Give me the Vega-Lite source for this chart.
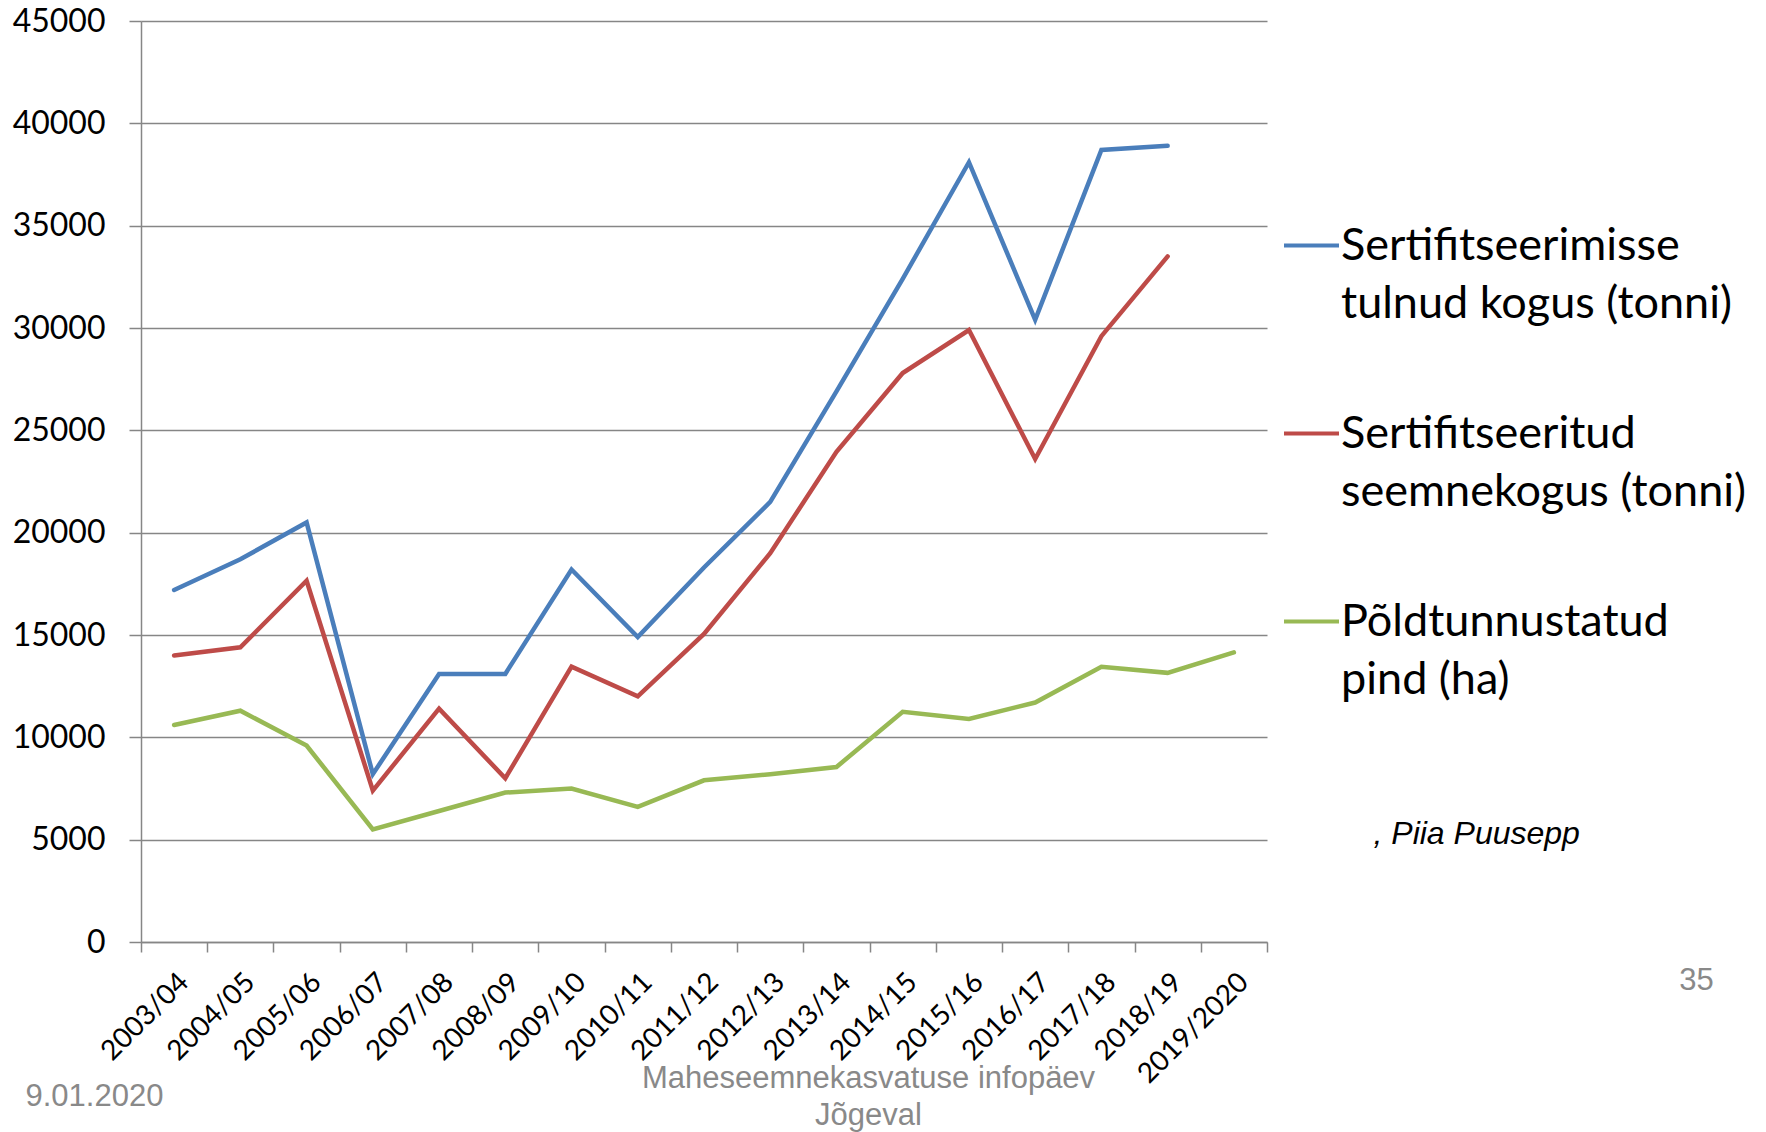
{
  "$schema": "https://vega.github.io/schema/vega-lite/v6.json",
  "width": 1126,
  "height": 921,
  "autosize": {"type": "none"},
  "padding": {"left": 141, "top": 21, "right": 499, "bottom": 190},
  "background": "white",
  "data": {
    "values": [
      {"season": "2003/04", "series": "Sertifitseerimisse tulnud kogus (tonni)", "value": 17200},
      {"season": "2004/05", "series": "Sertifitseerimisse tulnud kogus (tonni)", "value": 18700},
      {"season": "2005/06", "series": "Sertifitseerimisse tulnud kogus (tonni)", "value": 20500},
      {"season": "2006/07", "series": "Sertifitseerimisse tulnud kogus (tonni)", "value": 8200},
      {"season": "2007/08", "series": "Sertifitseerimisse tulnud kogus (tonni)", "value": 13100},
      {"season": "2008/09", "series": "Sertifitseerimisse tulnud kogus (tonni)", "value": 13100},
      {"season": "2009/10", "series": "Sertifitseerimisse tulnud kogus (tonni)", "value": 18200},
      {"season": "2010/11", "series": "Sertifitseerimisse tulnud kogus (tonni)", "value": 14900},
      {"season": "2011/12", "series": "Sertifitseerimisse tulnud kogus (tonni)", "value": 18300},
      {"season": "2012/13", "series": "Sertifitseerimisse tulnud kogus (tonni)", "value": 21500},
      {"season": "2013/14", "series": "Sertifitseerimisse tulnud kogus (tonni)", "value": 26900},
      {"season": "2014/15", "series": "Sertifitseerimisse tulnud kogus (tonni)", "value": 32400},
      {"season": "2015/16", "series": "Sertifitseerimisse tulnud kogus (tonni)", "value": 38100},
      {"season": "2016/17", "series": "Sertifitseerimisse tulnud kogus (tonni)", "value": 30400},
      {"season": "2017/18", "series": "Sertifitseerimisse tulnud kogus (tonni)", "value": 38700},
      {"season": "2018/19", "series": "Sertifitseerimisse tulnud kogus (tonni)", "value": 38900},
      {"season": "2003/04", "series": "Sertifitseeritud seemnekogus (tonni)", "value": 14000},
      {"season": "2004/05", "series": "Sertifitseeritud seemnekogus (tonni)", "value": 14400},
      {"season": "2005/06", "series": "Sertifitseeritud seemnekogus (tonni)", "value": 17650},
      {"season": "2006/07", "series": "Sertifitseeritud seemnekogus (tonni)", "value": 7400},
      {"season": "2007/08", "series": "Sertifitseeritud seemnekogus (tonni)", "value": 11400},
      {"season": "2008/09", "series": "Sertifitseeritud seemnekogus (tonni)", "value": 8000},
      {"season": "2009/10", "series": "Sertifitseeritud seemnekogus (tonni)", "value": 13450},
      {"season": "2010/11", "series": "Sertifitseeritud seemnekogus (tonni)", "value": 12000},
      {"season": "2011/12", "series": "Sertifitseeritud seemnekogus (tonni)", "value": 15050},
      {"season": "2012/13", "series": "Sertifitseeritud seemnekogus (tonni)", "value": 19000},
      {"season": "2013/14", "series": "Sertifitseeritud seemnekogus (tonni)", "value": 23950},
      {"season": "2014/15", "series": "Sertifitseeritud seemnekogus (tonni)", "value": 27800},
      {"season": "2015/16", "series": "Sertifitseeritud seemnekogus (tonni)", "value": 29900},
      {"season": "2016/17", "series": "Sertifitseeritud seemnekogus (tonni)", "value": 23600},
      {"season": "2017/18", "series": "Sertifitseeritud seemnekogus (tonni)", "value": 29600},
      {"season": "2018/19", "series": "Sertifitseeritud seemnekogus (tonni)", "value": 33500},
      {"season": "2003/04", "series": "Põldtunnustatud pind (ha)", "value": 10600},
      {"season": "2004/05", "series": "Põldtunnustatud pind (ha)", "value": 11300},
      {"season": "2005/06", "series": "Põldtunnustatud pind (ha)", "value": 9600},
      {"season": "2006/07", "series": "Põldtunnustatud pind (ha)", "value": 5500},
      {"season": "2007/08", "series": "Põldtunnustatud pind (ha)", "value": 6400},
      {"season": "2008/09", "series": "Põldtunnustatud pind (ha)", "value": 7300},
      {"season": "2009/10", "series": "Põldtunnustatud pind (ha)", "value": 7500},
      {"season": "2010/11", "series": "Põldtunnustatud pind (ha)", "value": 6600},
      {"season": "2011/12", "series": "Põldtunnustatud pind (ha)", "value": 7900},
      {"season": "2012/13", "series": "Põldtunnustatud pind (ha)", "value": 8200},
      {"season": "2013/14", "series": "Põldtunnustatud pind (ha)", "value": 8550},
      {"season": "2014/15", "series": "Põldtunnustatud pind (ha)", "value": 11250},
      {"season": "2015/16", "series": "Põldtunnustatud pind (ha)", "value": 10900},
      {"season": "2016/17", "series": "Põldtunnustatud pind (ha)", "value": 11700},
      {"season": "2017/18", "series": "Põldtunnustatud pind (ha)", "value": 13450},
      {"season": "2018/19", "series": "Põldtunnustatud pind (ha)", "value": 13150},
      {"season": "2019/2020", "series": "Põldtunnustatud pind (ha)", "value": 14150}
    ]
  },
  "layer": [
    {
      "transform": [{"filter": "datum.series != 'Põldtunnustatud pind (ha)'"}],
      "mark": {"type": "line", "strokeWidth": 4.5, "strokeJoin": "miter", "strokeCap": "round"},
      "encoding": {
        "x": {
          "field": "season", "type": "ordinal", "bandPosition": 0.5,
          "scale": {"type": "band", "paddingInner": 0, "paddingOuter": 0,
            "domain": ["2003/04","2004/05","2005/06","2006/07","2007/08","2008/09","2009/10","2010/11","2011/12","2012/13","2013/14","2014/15","2015/16","2016/17","2017/18","2018/19","2019/2020"]},
          "axis": {
            "orient": "bottom",
            "tickBand": "extent",
            "grid": false,
            "domainColor": "#868686", "domainWidth": 1.5,
            "tickColor": "#868686", "tickWidth": 1.5, "tickSize": 10,
            "labelAngle": -45, "labelFont": "Lato", "labelFontSize": 28, "labelColor": "#000000",
            "labelPadding": 16, "labelOverlap": false,
            "title": ["Maheseemnekasvatuse infopäev", "Jõgeval"],
            "titleFont": "Liberation Sans", "titleFontSize": 31, "titleFontWeight": "normal", "titleColor": "#898989",
            "titleLineHeight": 37, "titleAlign": "center", "titleBaseline": "middle", "titleAngle": 0,
            "titleX": 727, "titleY": 136
          }
        },
        "y": {
          "field": "value", "type": "quantitative",
          "scale": {"domain": [0, 45000], "nice": false, "zero": true},
          "axis": {
            "orient": "left",
            "values": [0,5000,10000,15000,20000,25000,30000,35000,40000,45000],
            "format": "d",
            "grid": true, "gridColor": "#868686", "gridWidth": 1.5,
            "domainColor": "#868686", "domainWidth": 1.5,
            "tickColor": "#868686", "tickWidth": 1.5, "tickSize": 12,
            "labelFont": "Lato", "labelFontSize": 32, "labelColor": "#000000", "labelPadding": 24,
            "title": "9.01.2020",
            "titleFont": "Liberation Sans", "titleFontSize": 31, "titleFontWeight": "normal", "titleColor": "#898989",
            "titleAngle": 0, "titleAlign": "left", "titleBaseline": "middle",
            "titleX": -116, "titleY": 1075
          }
        },
        "color": {
          "field": "series", "type": "nominal",
          "scale": {
            "domain": ["Sertifitseerimisse tulnud kogus (tonni)", "Sertifitseeritud seemnekogus (tonni)", "Põldtunnustatud pind (ha)"],
            "range": ["#4a7ebb", "#be4b48", "#98b954"]
          },
          "legend": {
            "orient": "none", "legendX": 1141, "legendY": 139,
            "title": null, "padding": 0,
            "symbolType": "stroke", "symbolSize": 3025, "symbolStrokeWidth": 4,
            "labelFont": "Lato", "labelFontSize": 45, "labelColor": "#000000",
            "labelLimit": 700, "labelOffset": 0, "labelBaseline": "middle",
            "clipHeight": 171, "rowPadding": 17,
            "labelExpr": "datum.label == 'Sertifitseerimisse tulnud kogus (tonni)' ? ['Sertifitseerimisse', 'tulnud kogus (tonni)'] : datum.label == 'Sertifitseeritud seemnekogus (tonni)' ? ['Sertifitseeritud', 'seemnekogus (tonni)'] : ['Põldtunnustatud', 'pind (ha)']",
            "encode": {"labels": {"update": {"lineHeight": {"value": 58}}}}
          }
        }
      }
    },
    {
      "transform": [{"filter": "datum.series == 'Põldtunnustatud pind (ha)'"}],
      "mark": {"type": "line", "strokeWidth": 4.5, "strokeJoin": "miter", "strokeCap": "round"},
      "encoding": {
        "x": {
          "field": "season", "type": "ordinal", "bandPosition": 0.5,
          "scale": {"type": "band", "paddingInner": 0, "paddingOuter": 0,
            "domain": ["2003/04","2004/05","2005/06","2006/07","2007/08","2008/09","2009/10","2010/11","2011/12","2012/13","2013/14","2014/15","2015/16","2016/17","2017/18","2018/19","2019/2020"]},
          "axis": {
            "orient": "top", "labels": false, "ticks": false, "domain": false, "grid": false,
            "title": "35",
            "titleFont": "Liberation Sans", "titleFontSize": 31, "titleFontWeight": "normal", "titleColor": "#898989",
            "titleAngle": 0, "titleAlign": "center", "titleBaseline": "middle",
            "titleX": 1555, "titleY": 959
          }
        },
        "y": {
          "field": "value", "type": "quantitative",
          "scale": {"domain": [0, 45000], "nice": false, "zero": true},
          "axis": {
            "orient": "right", "labels": false, "ticks": false, "domain": false, "grid": false,
            "title": ", Piia Puusepp",
            "titleFont": "Liberation Sans", "titleFontSize": 32, "titleFontStyle": "italic", "titleFontWeight": "normal", "titleColor": "#000000",
            "titleAngle": 0, "titleAlign": "left", "titleBaseline": "middle",
            "titleX": 106, "titleY": 812
          }
        },
        "color": {
          "field": "series", "type": "nominal",
          "scale": {
            "domain": ["Sertifitseerimisse tulnud kogus (tonni)", "Sertifitseeritud seemnekogus (tonni)", "Põldtunnustatud pind (ha)"],
            "range": ["#4a7ebb", "#be4b48", "#98b954"]
          }
        }
      }
    }
  ],
  "resolve": {"scale": {"x": "independent", "y": "independent"}, "axis": {"x": "independent", "y": "independent"}},
  "config": {"view": {"stroke": null}, "axis": {"labelFontWeight": "normal"}}
}
